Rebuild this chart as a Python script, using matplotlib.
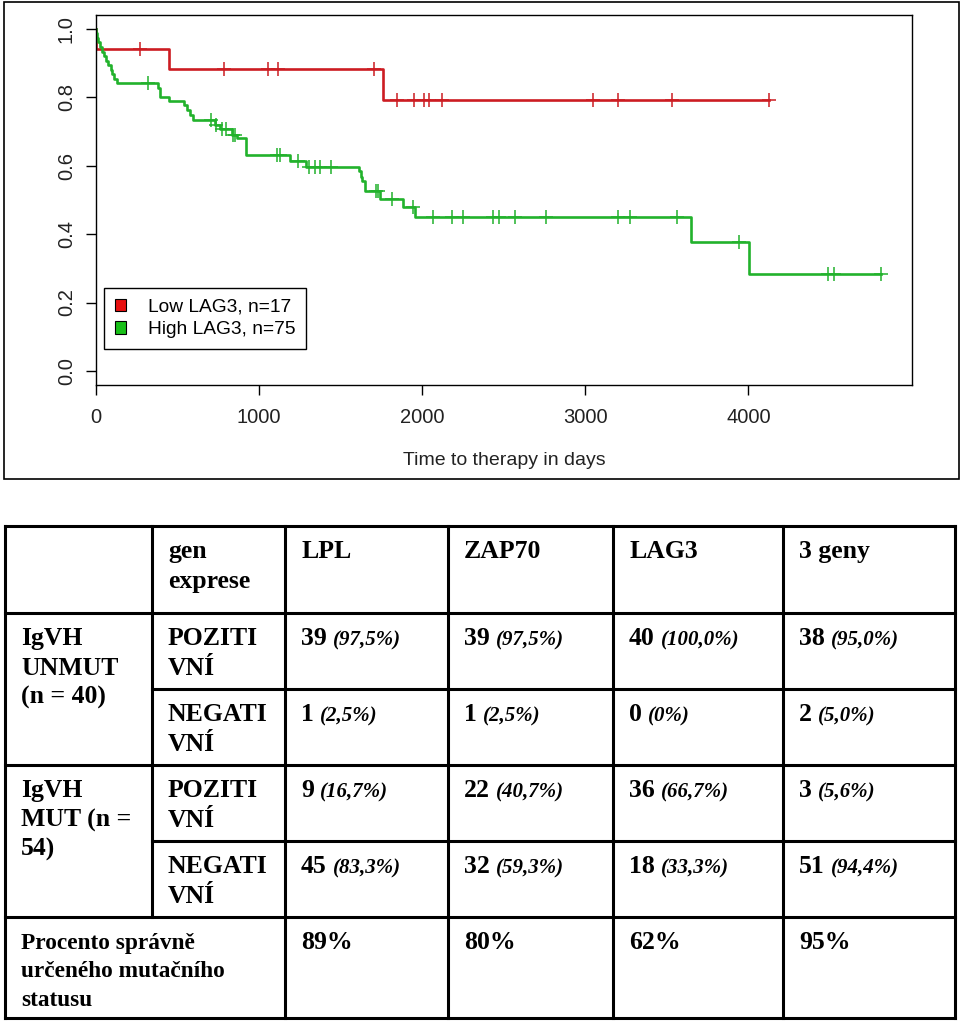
import matplotlib
matplotlib.use("Agg")
import matplotlib.pyplot as plt
import numpy as np
from matplotlib.patches import Rectangle, Patch
from matplotlib.font_manager import FontProperties

# --- Kaplan-Meier data ---
low_event_t = [2, 448, 1758]
low_event_s = [0.941, 0.882, 0.792]
low_censor = [270, 783, 1052, 1118, 1702, 1843, 1950, 2009, 2042, 2121,
              3049, 3200, 3530, 4127]

high_event_t = [3, 8, 15, 25, 35, 48, 61, 75, 90, 100, 110, 127,
                380, 392, 450, 540, 556, 576, 593, 730, 760, 832, 862, 920,
                1189, 1285, 1615, 1622, 1630, 1650, 1740, 1884, 1956,
                3646, 4005]
high_event_s = [0.987, 0.973, 0.960, 0.947, 0.933, 0.920, 0.907, 0.893, 0.880, 0.867, 0.853, 0.840,
                0.828, 0.800, 0.789, 0.778, 0.763, 0.749, 0.734, 0.719, 0.707, 0.690, 0.680, 0.632,
                0.614, 0.597, 0.583, 0.568, 0.554, 0.527, 0.503, 0.479, 0.451,
                0.376, 0.283]
high_censor = [321, 705, 735, 775, 800, 842, 852, 1110, 1130, 1241, 1308, 1340, 1373, 1441,
               1715, 1730, 1813, 1945, 2068, 2181, 2248, 2432, 2473, 2569, 2759,
               3203, 3274, 3560, 3942, 4490, 4526, 4812]

labels = ["Low LAG3, n=17", "High LAG3, n=75"]
line_colors = ["#cc1c22", "#22b22c"]
box_colors = ["#e81010", "#18c018"]

# --- table data ---
genes = ["LPL", "ZAP70", "LAG3", "3 geny"]
unmut_pos = ["39", "39", "40", "38"]
unmut_pos_pct = ["(97,5%)", "(97,5%)", "(100,0%)", "(95,0%)"]
unmut_neg = ["1", "1", "0", "2"]
unmut_neg_pct = ["(2,5%)", "(2,5%)", "(0%)", "(5,0%)"]
mut_pos = ["9", "22", "36", "3"]
mut_pos_pct = ["(16,7%)", "(40,7%)", "(66,7%)", "(5,6%)"]
mut_neg = ["45", "32", "18", "51"]
mut_neg_pct = ["(83,3%)", "(59,3%)", "(33,3%)", "(94,4%)"]
correct = ["89%", "80%", "62%", "95%"]

W, H = 960, 1021
fig = plt.figure(figsize=(W / 100, H / 100), dpi=100)

# overlay in pixel coordinates for the frame and the table
ov = fig.add_axes([0, 0, 1, 1])
ov.set_xlim(0, W)
ov.set_ylim(H, 0)
ov.axis("off")

ov.add_patch(Rectangle((4, 2), 955, 477, fill=False, ec="black", lw=1.2))

col_x = [5, 152, 285, 448, 613, 783, 955]
row_y = [526, 613, 689, 765, 841, 917, 1018]
tlw = 2.2
for y in [row_y[0], row_y[1], row_y[3], row_y[5], row_y[6]]:
    ov.plot([col_x[0], col_x[6]], [y, y], color="black", lw=tlw, solid_capstyle="projecting")
for y in [row_y[2], row_y[4]]:
    ov.plot([col_x[1], col_x[6]], [y, y], color="black", lw=tlw)
for i, x in enumerate(col_x):
    y1 = row_y[5] if i == 1 else row_y[6]
    ov.plot([x, x], [row_y[0], y1], color="black", lw=tlw, solid_capstyle="projecting")

serif = "Liberation Serif"
fs_main = 18.5
fs_pct = 15
pad_x = 16
base_off = 32
line_h = 29.5


def cell(col, row, lines, size=fs_main, step=line_h):
    for k, s in enumerate(lines):
        ov.text(col_x[col] + pad_x, row_y[row] + base_off + k * step, s,
                family=serif, weight="bold", size=size, va="baseline", ha="left")


def value_cell(col, row, num, pct):
    t1 = ov.text(col_x[col] + pad_x, row_y[row] + base_off, num,
                 family=serif, weight="bold", size=fs_main, va="baseline", ha="left")
    ov.annotate(pct, xy=(1, 0), xycoords=t1, xytext=(6, 0), textcoords="offset pixels",
                family=serif, weight="bold", style="italic", size=fs_pct,
                va="bottom", ha="left")


cell(1, 0, ["gen", "exprese"])
for j, g in enumerate(genes):
    cell(2 + j, 0, [g])
cell(0, 1, ["IgVH", "UNMUT", "(n = 40)"])
cell(1, 1, ["POZITI", "VNÍ"])
cell(1, 2, ["NEGATI", "VNÍ"])
cell(0, 3, ["IgVH", "MUT (n =", "54)"])
cell(1, 3, ["POZITI", "VNÍ"])
cell(1, 4, ["NEGATI", "VNÍ"])
cell(0, 5, ["Procento správně", "určeného mutačního", "statusu"], size=16.8, step=28.3)
for j in range(4):
    value_cell(2 + j, 1, unmut_pos[j], unmut_pos_pct[j])
    value_cell(2 + j, 2, unmut_neg[j], unmut_neg_pct[j])
    value_cell(2 + j, 3, mut_pos[j], mut_pos_pct[j])
    value_cell(2 + j, 4, mut_neg[j], mut_neg_pct[j])
    cell(2 + j, 5, [correct[j]])

# --- survival plot ---
ax = fig.add_axes([96 / W, 1 - 385 / H, (912 - 96) / W, (385 - 14.7) / H])
sans = "Liberation Sans"


def draw_km(ev_t, ev_s, cens, color):
    t = np.array([0] + ev_t + [max(cens)])
    s = np.array([1.0] + ev_s + [ev_s[-1]])
    ax.step(t, s, where="post", color=color, lw=1.9)
    idx = np.searchsorted(t[:-1], cens, side="right") - 1
    ax.plot(cens, s[idx], linestyle="none", marker="+", ms=9.5, mew=1.1, color=color)


draw_km(low_event_t, low_event_s, low_censor, line_colors[0])
draw_km(high_event_t, high_event_s, high_censor, line_colors[1])

ax.set_xlim(0, 5003)
ax.set_ylim(-0.041, 1.041)
ax.set_xticks([0, 1000, 2000, 3000, 4000])
ax.set_yticks([0, 0.2, 0.4, 0.6, 0.8, 1.0])
ax.set_yticklabels(["0.0", "0.2", "0.4", "0.6", "0.8", "1.0"])
ax.tick_params(direction="out", length=7.5, width=1, color="black")
ax.tick_params(axis="x", pad=9)
ax.tick_params(axis="y", pad=7)
for sp in ax.spines.values():
    sp.set_linewidth(1)
for lbl in ax.get_xticklabels():
    lbl.set_fontproperties(FontProperties(family=sans, size=14.5))
    lbl.set_color("#222222")
for lbl in ax.get_yticklabels():
    lbl.set_fontproperties(FontProperties(family=sans, size=14.5))
    lbl.set_color("#222222")
    lbl.set_rotation(90)
    lbl.set_va("center")
ax.set_xlabel("Time to therapy in days", fontproperties=FontProperties(family=sans, size=14),
              labelpad=18, color="#222222")

handles = [Patch(facecolor=box_colors[i], edgecolor="black", lw=0.8, label=labels[i])
           for i in range(2)]
leg = ax.legend(handles=handles, loc="upper left", bbox_to_anchor=(0.0098, 0.262),
                borderaxespad=0, fancybox=False, edgecolor="black", framealpha=1,
                handlelength=0.62, handleheight=0.62, handletextpad=1.1,
                borderpad=0.55, labelspacing=0.3,
                prop=FontProperties(family=sans, size=13.8))
leg.get_frame().set_linewidth(1)

fig.savefig("out.png", dpi=100)
